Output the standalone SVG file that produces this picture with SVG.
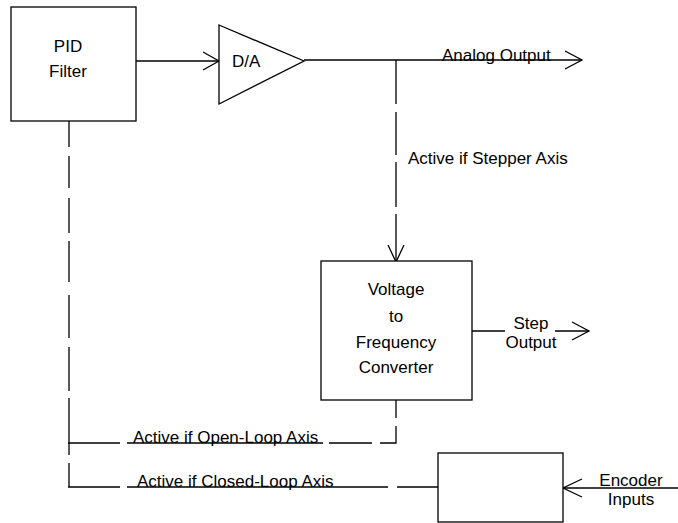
<svg xmlns="http://www.w3.org/2000/svg" width="678" height="523" viewBox="0 0 678 523">
<style>
.s{fill:none;stroke:#000;stroke-width:1.3}
.b{fill:#fff;stroke:#000;stroke-width:1.3}
text{font-family:"Liberation Sans",Arial,sans-serif;font-size:17px;fill:#000}
.m{text-anchor:middle}
</style>
<rect width="678" height="523" fill="#fff"/>
<g id="connectors">
<line class="s" x1="136" y1="61" x2="219" y2="61"/>
<polyline class="s" points="203,52 219,61 203,70"/>
<line class="s" x1="304" y1="60" x2="582" y2="60"/>
<polyline class="s" points="565,51 582,60 565,69"/>
<path class="s" d="M396,60V104M396,112V155M396,162V207M396,214V262"/>
<polyline class="s" points="388,245 396,262 404,245"/>
<path class="s" d="M472,331H505M555,331H589"/>
<polyline class="s" points="572,322 589,331 572,340"/>
<path class="s" d="M69,121V147M69,156V188M69,198V233M69,241V282M69,295V338M69,347V391M69,398V455M69,463V487"/>
<path class="s" d="M396,400V418M396,426V443H380M372,443H329M68,443H120M127,443H323"/>
<path class="s" d="M68,487H120M127,487H388M397,487H438"/>
<path class="s" d="M563,488H678"/>
<polyline class="s" points="582,479 563,488 582,497"/>
</g>
<g id="pid">
<rect class="b" x="11" y="7" width="125" height="114"/>
<text class="m" x="68" y="52">PID</text>
<text class="m" x="68" y="77">Filter</text>
</g>
<g id="da">
<polygon class="b" points="219,25 304,61 219,104"/>
<text x="232" y="67">D/A</text>
</g>
<g id="vfc">
<rect class="b" x="321" y="261" width="151" height="139"/>
<text class="m" x="396" y="295">Voltage</text>
<text class="m" x="396" y="322">to</text>
<text class="m" x="396" y="348">Frequency</text>
<text class="m" x="396" y="373">Converter</text>
</g>
<g id="encoder">
<rect class="b" x="438" y="453" width="125" height="69"/>
</g>
<g id="labels">
<text x="442" y="61">Analog Output</text>
<text x="408" y="164">Active if Stepper Axis</text>
<text class="m" x="531" y="329">Step</text>
<text class="m" x="531" y="348">Output</text>
<text class="m" x="631" y="486">Encoder</text>
<text class="m" x="631" y="505">Inputs</text>
<text x="133" y="443">Active if Open-Loop Axis</text>
<text x="137" y="487">Active if Closed-Loop Axis</text>
</g>
</svg>
